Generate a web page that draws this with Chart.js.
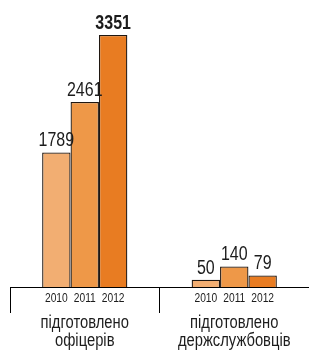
<!DOCTYPE html>
<html>
<head>
<meta charset="utf-8">
<script src="https://cdn.jsdelivr.net/npm/chart.js@4.4.1/dist/chart.umd.min.js"></script>
<style>
  html, body { margin: 0; padding: 0; background: #fff; }
  #wrap { width: 309px; height: 356px; position: relative; }
</style>
</head>
<body>
<div id="wrap"><canvas id="c"></canvas></div>
<script>
// дані
const groups = [["підготовлено", "офіцерів"], ["підготовлено", "держслужбовців"]];
const years = ["2010", "2011", "2012"];
const officers = [1789, 2461, 3351];
const civilServants = [50, 140, 79];

// вузький шрифт імітуємо стисненням по горизонталі
const FONT = "'Liberation Sans', Arial, sans-serif";
const NARROW = 0.82;
const yearColors = ["#f2ae72", "#ee9848", "#e87c22"];
const edge = "#1f1711";

function makeSet(values, groupIdx, yearIdx) {
  const data = groups.map((g, i) => (i === groupIdx ? values[yearIdx] : null));
  return {
    label: years[yearIdx],
    data,
    yAxisID: groupIdx === 0 ? "y" : "y2",
    backgroundColor: yearColors[yearIdx],
    borderColor: edge,
    borderWidth: { top: 1.3, left: 1.3, right: 1.3, bottom: 0 },
    borderSkipped: false,
    skipNull: true,
    categoryPercentage: 0.57,
    barPercentage: 1,
  };
}

const datasets = [];
years.forEach((y, i) => datasets.push(makeSet(officers, 0, i)));
years.forEach((y, i) => datasets.push(makeSet(civilServants, 1, i)));

function narrowText(ctx, text, x, y, font, baseline) {
  ctx.save();
  ctx.translate(x, y);
  ctx.scale(NARROW, 1);
  ctx.font = font;
  ctx.textAlign = "center";
  ctx.textBaseline = baseline;
  ctx.fillText(text, 0, 0);
  ctx.restore();
}

// підписи значень, років і груп
const labelsPlugin = {
  id: "barLabels",
  afterDatasetsDraw(chart) {
    const ctx = chart.ctx;
    const base = chart.chartArea.bottom;
    ctx.fillStyle = "#1c1c1c";
    chart.data.datasets.forEach((ds, di) => {
      const meta = chart.getDatasetMeta(di);
      meta.data.forEach((bar, i) => {
        const v = ds.data[i];
        if (v == null) return;
        const bold = di === 2;
        narrowText(ctx, String(v), bar.x, bar.y - 6, (bold ? "bold " : "") + "19.5px " + FONT, "alphabetic");
        narrowText(ctx, ds.label, bar.x, base + 12, "12.5px " + FONT, "middle");
      });
    });
    const xs = chart.scales.x;
    groups.forEach((lines, i) => {
      const cx = xs.getPixelForValue(i);
      lines.forEach((t, li) => {
        narrowText(ctx, t, cx, base + 36 + li * 18, "18px " + FONT, "middle");
      });
    });
  },
};

new Chart(document.getElementById("c"), {
  type: "bar",
  data: { labels: groups, datasets },
  options: {
    responsive: true,
    maintainAspectRatio: false,
    animation: false,
    layout: { padding: { top: 35, left: 10, right: 0, bottom: 43 } },
    plugins: { legend: { display: false }, tooltip: { enabled: false } },
    scales: {
      x: {
        grid: {
          display: true,
          offset: true,
          drawOnChartArea: false,
          drawTicks: true,
          tickLength: 26,
          color: "#000",
          lineWidth: 1,
        },
        border: { display: true, color: "#000", width: 1 },
        ticks: { display: false },
      },
      y: { display: false, min: 0, max: 3351 },
      y2: { display: false, min: 0, max: 1720 },
    },
  },
  plugins: [labelsPlugin],
});
</script>
</body>
</html>
